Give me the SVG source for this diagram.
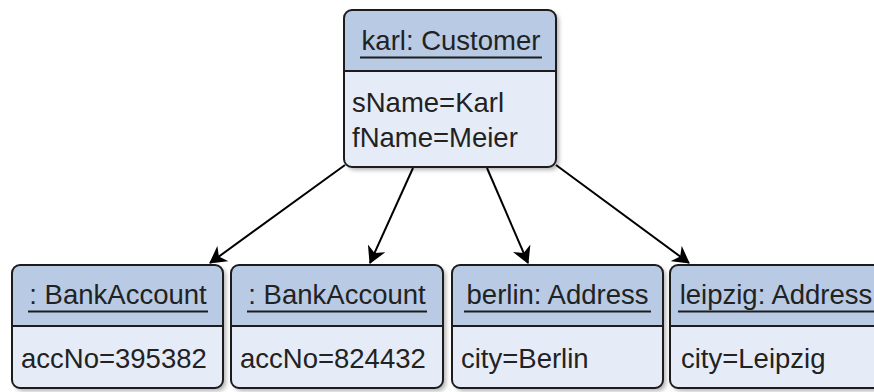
<svg xmlns="http://www.w3.org/2000/svg" width="874" height="392" viewBox="0 0 874 392">
  <defs>
    <filter id="shadow" x="-10%" y="-10%" width="130%" height="130%">
      <feDropShadow dx="3" dy="3" stdDeviation="2" flood-color="#000" flood-opacity="0.3"/>
    </filter>
    <marker id="arrow" markerUnits="userSpaceOnUse" markerWidth="17" markerHeight="19" viewBox="0 0 17 19" refX="16" refY="9.5" orient="auto">
      <path d="M0,0 L17,9.5 L0,19 L5,9.5 Z" fill="#000"/>
    </marker>
  </defs>
  <style>
    .body { fill: #e6ecf7; stroke: none; }
    .head { fill: #b8cae4; stroke: none; }
    .frame { fill: none; stroke: #1c1c1c; stroke-width: 2; }
    .sep { stroke: #1c1c1c; stroke-width: 2; }
    .ul { stroke: #1c1c1c; stroke-width: 2; }
    .t { font-family: "Liberation Sans", Arial, sans-serif; font-size: 27.5px; fill: #222; }
    .c { text-anchor: middle; }
    .edge { fill: none; stroke: #000; stroke-width: 2; marker-end: url(#arrow); }
  </style>

  <!-- links from the customer object to its accounts and addresses -->
  <g id="connectors">
    <line class="edge" x1="345" y1="165" x2="210" y2="263"/>
    <line class="edge" x1="413" y1="168" x2="370" y2="263"/>
    <line class="edge" x1="487" y1="168" x2="528" y2="263"/>
    <line class="edge" x1="556" y1="165" x2="689" y2="263"/>
  </g>

  <!-- karl: Customer -->
  <g id="karl">
    <rect class="body" x="344" y="10" width="212" height="157" rx="8" filter="url(#shadow)"/>
    <path class="head" d="M344,71 V18 A8,8 0 0 1 352,10 H548 A8,8 0 0 1 556,18 V71 Z"/>
    <line class="sep" x1="344" y1="71" x2="556" y2="71"/>
    <rect class="frame" x="344" y="10" width="212" height="157" rx="8"/>
    <text class="t c" x="451" y="50">karl: Customer</text>
    <line class="ul" x1="360" y1="57.5" x2="542" y2="57.5"/>
    <text class="t" x="352" y="112">sName=Karl</text>
    <text class="t" x="352" y="147">fName=Meier</text>
  </g>

  <!-- first bank account -->
  <g id="account1">
    <rect class="body" x="12" y="265" width="211" height="123" rx="8" filter="url(#shadow)"/>
    <path class="head" d="M12,326 V273 A8,8 0 0 1 20,265 H215 A8,8 0 0 1 223,273 V326 Z"/>
    <line class="sep" x1="12" y1="326" x2="223" y2="326"/>
    <rect class="frame" x="12" y="265" width="211" height="123" rx="8"/>
    <text class="t c" x="118" y="304">: BankAccount</text>
    <line class="ul" x1="28" y1="311.5" x2="208" y2="311.5"/>
    <text class="t" x="21" y="368">accNo=395382</text>
  </g>

  <!-- second bank account -->
  <g id="account2">
    <rect class="body" x="231" y="265" width="212" height="123" rx="8" filter="url(#shadow)"/>
    <path class="head" d="M231,326 V273 A8,8 0 0 1 239,265 H435 A8,8 0 0 1 443,273 V326 Z"/>
    <line class="sep" x1="231" y1="326" x2="443" y2="326"/>
    <rect class="frame" x="231" y="265" width="212" height="123" rx="8"/>
    <text class="t c" x="337" y="304">: BankAccount</text>
    <line class="ul" x1="247" y1="311.5" x2="427" y2="311.5"/>
    <text class="t" x="240" y="368">accNo=824432</text>
  </g>

  <!-- berlin: Address -->
  <g id="berlin">
    <rect class="body" x="452" y="265" width="211" height="123" rx="8" filter="url(#shadow)"/>
    <path class="head" d="M452,326 V273 A8,8 0 0 1 460,265 H655 A8,8 0 0 1 663,273 V326 Z"/>
    <line class="sep" x1="452" y1="326" x2="663" y2="326"/>
    <rect class="frame" x="452" y="265" width="211" height="123" rx="8"/>
    <text class="t c" x="557.5" y="304">berlin: Address</text>
    <line class="ul" x1="464" y1="311.5" x2="651" y2="311.5"/>
    <text class="t" x="461" y="368">city=Berlin</text>
  </g>

  <!-- leipzig: Address -->
  <g id="leipzig">
    <rect class="body" x="670" y="265" width="212" height="123" rx="8" filter="url(#shadow)"/>
    <path class="head" d="M670,326 V273 A8,8 0 0 1 678,265 H874 A8,8 0 0 1 882,273 V326 Z"/>
    <line class="sep" x1="670" y1="326" x2="882" y2="326"/>
    <rect class="frame" x="670" y="265" width="212" height="123" rx="8"/>
    <text class="t c" x="776" y="304">leipzig: Address</text>
    <line class="ul" x1="678" y1="311.5" x2="874" y2="311.5"/>
    <text class="t" x="681" y="368">city=Leipzig</text>
  </g>
</svg>
